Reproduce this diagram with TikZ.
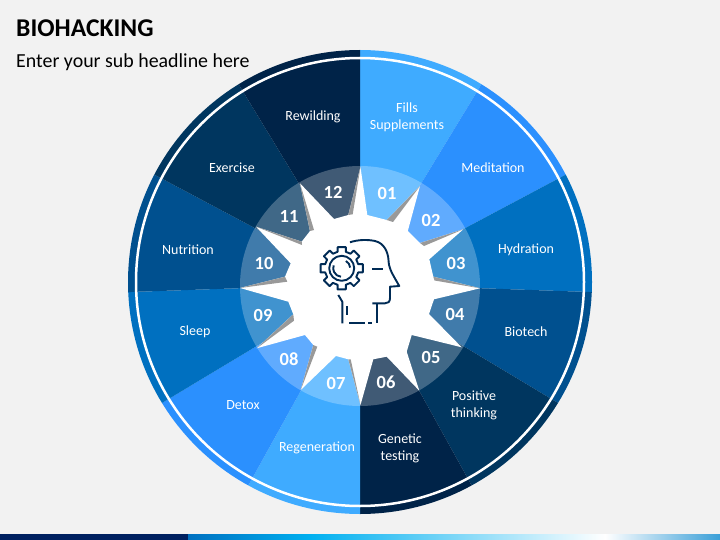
\documentclass[tikz,border=0pt]{standalone}
\usepackage{fontspec}
\usetikzlibrary{calc}
\setmainfont{Carlito}
\definecolor{paper}{HTML}{F2F2F2}
\definecolor{skyblue}{HTML}{3FABFF}
\definecolor{midblue}{HTML}{2B90FE}
\definecolor{deepblue}{HTML}{0070C0}
\definecolor{steelblue}{HTML}{00508F}
\definecolor{darkblue}{HTML}{00365F}
\definecolor{inkblue}{HTML}{002348}
\definecolor{bandnavy}{HTML}{002060}
\definecolor{bandblue}{HTML}{0070C0}
\definecolor{bandcyan}{HTML}{00B0F0}
\definecolor{bandend}{HTML}{3A9FD8}
\definecolor{iconblue}{HTML}{002B55}
\definecolor{shadowgrey}{HTML}{999999}
\tikzset{
  sector/.style={white,font=\fontsize{14}{17}\selectfont,align=center,inner sep=0pt,yshift=-.7pt},
  number/.style={white,font=\fontsize{18.5}{20}\selectfont\bfseries,inner sep=0pt,yshift=-1pt},
  iconline/.style={iconblue,line width=1.9pt,line join=round},
  shadow/.style={fill=shadowgrey}
}
\begin{document}
\begin{tikzpicture}[x=1pt,y=-1pt]
  \fill[paper] (0,0) rectangle (720,540);
  \useasboundingbox (0,0) rectangle (720,540);
  \node[anchor=base west,inner sep=0pt,font=\fontsize{25.6}{28}\selectfont\bfseries] (title) at (16,37) {BIOHACKING};
  \node[anchor=base west,inner sep=0pt,font=\fontsize{19.9}{23}\selectfont] (subtitle) at (16,67.5) {Enter your sub headline here};
  % bottom band
  \fill[bandnavy] (0,534) rectangle (188,540);
  \shade[left color=bandblue,right color=bandcyan] (188,534) rectangle (310,540);
  \shade[left color=bandcyan,right color=white] (310,534) rectangle (605,540);
  \shade[left color=white,right color=bandend] (605,534) rectangle (720,540);
  % wedges
  \coordinate (hub) at (360,284);
  \begin{scope}
    \clip (360,282) circle (232);
    \foreach \from/\to/\col in {0/31.3/skyblue,31.3/62/midblue,62/92/deepblue,92/121/steelblue,121/151/darkblue,151/180/inkblue,
      180/209/skyblue,209/239/midblue,239/268/deepblue,268/298/steelblue,298/328.7/darkblue,328.7/360/inkblue}
      \fill[\col] (hub) -- ($(hub)+(\from-90:320)$) -- ($(hub)+(\to-90:320)$) -- cycle;
  \end{scope}
  \draw[white,line width=2.5pt] (360,282) circle (224);
  \fill[white,opacity=.25] (360,286) circle (120);
  % star
  \fill[white] (360.5,167) -- (367.3,215) -- (386.7,220) -- (420,186)
    -- (407.8,231) -- (420,243) -- (463.3,229.3)
    -- (429.3,259.3) -- (433.3,276.7) -- (480,288.3)
    -- (434,299.3) -- (429,314) -- (461.7,347.3)
    -- (411.7,335) -- (406.7,351.7) -- (419.3,390.7)
    -- (386.7,356.7) -- (373.3,359.3) -- (360.5,405)
    -- (348.3,359.3) -- (336,356) -- (300.7,390)
    -- (313.3,345) -- (305,335) -- (256.7,348.3)
    -- (293.3,314.3) -- (288.3,301.7) -- (240,288)
    -- (285,276.7) -- (290.7,263.3) -- (256,226.7)
    -- (301.7,241.7) -- (310,231) -- (300,183.3)
    -- (334,219) -- (348.3,215) -- cycle;
  % shadows
  \fill[shadow] (386.7,220) -- (393,222) -- (420,186) -- cycle;
  \fill[shadow] (420,243) -- (424,246) -- (463.3,229.3) -- cycle;
  \fill[shadow] (433.3,276.7) -- (434.5,280.5) -- (480,288.3) -- cycle;
  \fill[shadow] (348.3,359.3) -- (350.7,359.3) -- (360.5,405) -- cycle;
  \fill[shadow] (313.3,345) -- (317.3,346.7) -- (300.7,390) -- cycle;
  \fill[shadow] (293.3,314.3) -- (294,320.7) -- (256.7,348.3) -- cycle;
  \fill[shadow] (285,276.7) -- (287.3,281.7) -- (240,288) -- cycle;
  \fill[shadow] (301.7,241.7) -- (302,245) -- (256,226.7) -- cycle;
  \fill[shadow] (310,231) -- (314,230) -- (300,183.3) -- cycle;
  \fill[shadow] (348.3,215) -- (352.7,214.3) -- (360.5,167) -- cycle;
  % labels
  \node[sector] (fills) at (407,116.5) {Fills\\Supplements};
  \node[sector] (meditation) at (493,167) {Meditation};
  \node[sector] (hydration) at (526,249) {Hydration};
  \node[sector] (biotech) at (526,331) {Biotech};
  \node[sector] (positive) at (474,404.5) {Positive\\thinking};
  \node[sector] (genetic) at (400,447.5) {Genetic\\testing};
  \node[sector] (regeneration) at (317,447) {Regeneration};
  \node[sector] (detox) at (243,404) {Detox};
  \node[sector] (sleep) at (195,331) {Sleep};
  \node[sector] (nutrition) at (188,249) {Nutrition};
  \node[sector] (exercise) at (232,167) {Exercise};
  \node[sector] (rewilding) at (313,116) {Rewilding};
  \node[number] (n01) at (387,192) {01};
  \node[number] (n02) at (431,219) {02};
  \node[number] (n03) at (456,262) {03};
  \node[number] (n04) at (455,313) {04};
  \node[number] (n05) at (431,356) {05};
  \node[number] (n06) at (386,381) {06};
  \node[number] (n07) at (336,382) {07};
  \node[number] (n08) at (289,358) {08};
  \node[number] (n09) at (263,314) {09};
  \node[number] (n10) at (264,262) {10};
  \node[number] (n11) at (289,215) {11};
  \node[number] (n12) at (333,191) {12};
  % head icon
  \coordinate (gear) at (341.7,268.3);
  \draw[iconline] ($(gear)+(-11:21.5)$)
    \foreach \g in {0,45,...,315} {
      -- ($(gear)+(\g-11:21.5)$) -- ($(gear)+(\g+11:21.5)$) -- ($(gear)+(\g+14:17)$) -- ($(gear)+(\g+31:17)$)
    } -- cycle;
  \draw[iconline] (gear) circle (12.5);
  \draw[iconline] ($(gear)+(-60:8.5)$) arc (-60:-5:8.5);
  \draw[iconline] ($(gear)+(95:8.5)$) arc (95:200:8.5);
  \draw[iconline] (350,242.3) .. controls (358,239.5) and (368,239.5) .. (375,241)
    .. controls (384,243) and (388,252) .. (388.5,260) .. controls (389,268) and (390,270) .. (399.3,286)
    -- (390,286.7) -- (390,298) .. controls (390,302) and (388,303.3) .. (385,303.3) -- (372.3,303.3);
  \draw[iconline] (376.7,303.3) -- (376.7,323.3);
  \draw[iconline] (372.3,269.3) -- (382.7,269.3);
  \draw[iconline] (338.3,295) -- (342.3,301.7) -- (342.3,323.3);
  \draw[iconline] (346.7,306) -- (346.7,315);
  \draw[iconline] (349.3,322.7) -- (365,322.7);
  \draw[iconline] (368.3,322.7) -- (371.7,322.7);
\end{tikzpicture}
\end{document}
